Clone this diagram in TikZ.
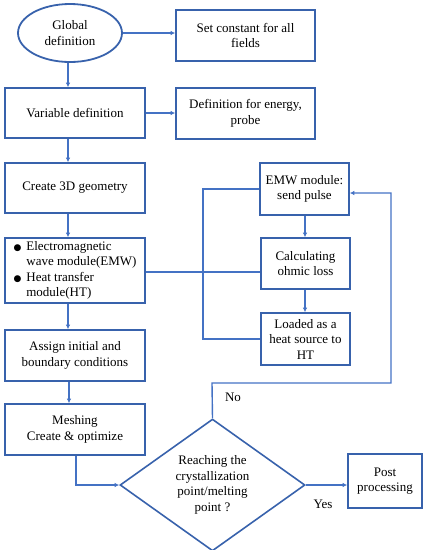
\documentclass[tikz,border=0pt]{standalone}
\usepackage{fontspec}
\setmainfont{Liberation Serif}
\newfontfamily\dejavu{DejaVu Sans}
\usetikzlibrary{arrows.meta,shapes.geometric}
\definecolor{boxblue}{HTML}{3862AC}
\definecolor{lineblue}{HTML}{4472C4}
\begin{document}
\begin{tikzpicture}[x=1pt,y=-1pt,
  every node/.style={font=\fontsize{13}{15.5}\selectfont, inner sep=1pt},
  box/.style={draw=boxblue, line width=1.6pt, rectangle, align=center},
  conn/.style={draw=lineblue, line width=1.4pt},
  arr/.style={conn, -{Latex[length=4.5pt,width=4.5pt]}},
  lbl/.style={font=\fontsize{13}{15}\selectfont}]
\useasboundingbox (0,0) rectangle (427,550);
\node[ellipse, draw=boxblue, line width=1.8pt, minimum width=104, minimum height=58, align=center, inner sep=0pt] (glob) at (70,33) {Global\\definition};
\node[box, minimum width=139, minimum height=51] (set) at (245.5,35.5) {Set constant for all\\fields};
\node[box, minimum width=140, minimum height=50] (var) at (75,113) {Variable definition};
\node[box, minimum width=139, minimum height=51] (def) at (245.5,113.5) {Definition for energy,\\probe};
\node[box, minimum width=140, minimum height=50] (geo) at (75,188) {Create 3D geometry};
\node[box, minimum width=89, minimum height=52] (emw) at (304.5,189) {EMW module:\\send pulse};
\node[box, minimum width=140, minimum height=65, inner sep=0pt] (em) at (75,270.5) {\renewcommand{\arraystretch}{0.98}\begin{tabular}{@{}l@{\hspace{5pt}}l@{}}{\dejavu\fontsize{9}{9}\selectfont ●} & Electromagnetic\\ & wave module(EMW)\\ {\dejavu\fontsize{9}{9}\selectfont ●} & Heat transfer\\ & module(HT)\end{tabular}};
\node[box, minimum width=89, minimum height=51] (calc) at (305.5,263.5) {Calculating\\ohmic loss};
\node[box, minimum width=89, minimum height=52] (load) at (305.5,339) {Loaded as a\\heat source to\\HT};
\node[box, minimum width=140, minimum height=51] (assign) at (75,355.5) {Assign initial and\\boundary conditions};
\node[box, minimum width=140, minimum height=51] (mesh) at (75,429.5) {Meshing\\Create \& optimize};
\node[diamond, draw=boxblue, line width=1.6pt, minimum width=185, minimum height=118, inner sep=0pt, align=center] (dia) at (212.5,485) {Reaching the\\crystallization\\point/melting\\point ?};
\node[box, minimum width=74, minimum height=54] (post) at (385,481) {Post\\processing};
\coordinate (nocorner) at (212,383);
\coordinate (rcorner) at (391,383);
\coordinate (rtop) at (391,193);
\coordinate (loopl) at (203,189);
\coordinate (loopb) at (203,339);
\coordinate (meshdown) at (76,485);
% connectors
\draw[arr] (glob.east) -- (glob.east -| set.west);
\draw[arr] (glob.south -| 68,0) -- (var.north -| 68,0);
\draw[arr] (var.east) -- (def.west |- var.east);
\draw[arr] (var.south -| 68,0) -- (geo.north -| 68,0);
\draw[arr] (geo.south -| 68,0) -- (em.north -| 68,0);
\draw[arr] (em.south -| 68,0) -- (assign.north -| 68,0);
\draw[arr] (assign.south -| 69,0) -- (mesh.north -| 69,0);
\draw[arr] (mesh.south -| meshdown) -- (meshdown) -- (dia.west);
\draw[arr] (dia.east) -- (dia.east -| post.west);
\draw[arr] (emw.south -| 305,0) -- (calc.north -| 305,0);
\draw[arr] (calc.south -| 305,0) -- (load.north -| 305,0);
\draw[conn] (emw.west) -- (loopl) -- (loopb) -- (load.west);
\draw[conn] (em.east |- 0,272) -- (calc.west |- 0,272);
\draw[arr] (dia.north) -- (nocorner) -- (rcorner) -- (rtop) -- (emw.east |- rtop);
\node[lbl] (no) at (233,397) {No};
\node[lbl] (yes) at (323,504) {Yes};
\end{tikzpicture}
\end{document}
